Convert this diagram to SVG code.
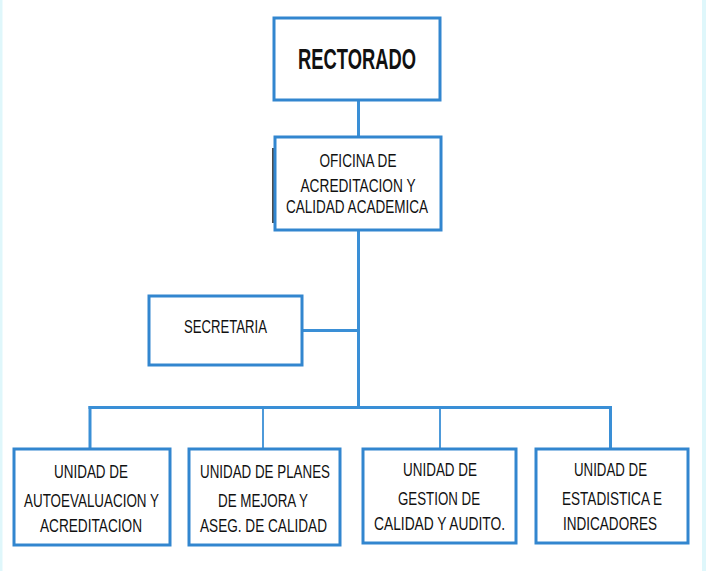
<svg xmlns="http://www.w3.org/2000/svg" width="706" height="571" viewBox="0 0 706 571">
<style>
.box{fill:#ffffff;stroke:#3286cf;stroke-width:3}
.ln{fill:none;stroke:#3a8fd6;stroke-width:3}
.thin{fill:none;stroke:#3a8fd6;stroke-width:1.8}
text{font-family:"Liberation Sans",Arial,sans-serif;fill:#111111;text-anchor:middle}
.t{font-size:19px}
.big{font-size:29px;font-weight:bold}
</style>
<rect x="0" y="0" width="706" height="571" fill="#ffffff"/>
<rect x="0" y="0" width="2.5" height="571" fill="#dff7fb"/>
<rect x="702" y="0" width="4" height="571" fill="#dff7fb"/>
<g id="connectors">
<line class="ln" x1="358.5" y1="100" x2="358.5" y2="137"/>
<line class="ln" x1="358.5" y1="230" x2="358.5" y2="407.5"/>
<line class="ln" x1="302" y1="330.5" x2="358.5" y2="330.5"/>
<line class="ln" x1="88.5" y1="407.5" x2="612" y2="407.5"/>
<line class="ln" x1="90" y1="406" x2="90" y2="449"/>
<line class="thin" x1="263" y1="407.5" x2="263" y2="449"/>
<line class="thin" x1="440" y1="407.5" x2="440" y2="449"/>
<line class="ln" x1="610.5" y1="406" x2="610.5" y2="449"/>
</g>
<g id="rectorado">
<rect class="box" x="274" y="18" width="166" height="82"/>
<text class="big" x="357" y="69" textLength="118" lengthAdjust="spacingAndGlyphs">RECTORADO</text>
</g>
<g id="oficina">
<line x1="273" y1="148" x2="273" y2="223" stroke="#111" stroke-width="1.5"/>
<rect class="box" x="275" y="137" width="166" height="93"/>
<text class="t" x="358" y="167" textLength="77" lengthAdjust="spacingAndGlyphs">OFICINA DE</text>
<text class="t" x="358" y="192" textLength="115" lengthAdjust="spacingAndGlyphs">ACREDITACION Y</text>
<text class="t" x="357" y="213" textLength="142" lengthAdjust="spacingAndGlyphs">CALIDAD ACADEMICA</text>
</g>
<g id="secretaria">
<rect class="box" x="149" y="296" width="153" height="69"/>
<text class="t" x="225.5" y="333" textLength="83" lengthAdjust="spacingAndGlyphs">SECRETARIA</text>
</g>
<g id="unidad1">
<rect class="box" x="14" y="449" width="156" height="96"/>
<text class="t" x="91" y="478" textLength="74" lengthAdjust="spacingAndGlyphs">UNIDAD DE</text>
<text class="t" x="91.5" y="507" textLength="135" lengthAdjust="spacingAndGlyphs">AUTOEVALUACION Y</text>
<text class="t" x="91" y="532" textLength="102" lengthAdjust="spacingAndGlyphs">ACREDITACION</text>
</g>
<g id="unidad2">
<rect class="box" x="189" y="449" width="151" height="96"/>
<text class="t" x="265" y="478" textLength="130" lengthAdjust="spacingAndGlyphs">UNIDAD DE PLANES</text>
<text class="t" x="263" y="507" textLength="90" lengthAdjust="spacingAndGlyphs">DE MEJORA Y</text>
<text class="t" x="263.5" y="532" textLength="127" lengthAdjust="spacingAndGlyphs">ASEG. DE CALIDAD</text>
</g>
<g id="unidad3">
<rect class="box" x="363" y="449" width="153" height="94"/>
<text class="t" x="440" y="476" textLength="74" lengthAdjust="spacingAndGlyphs">UNIDAD DE</text>
<text class="t" x="439" y="505" textLength="82" lengthAdjust="spacingAndGlyphs">GESTION DE</text>
<text class="t" x="439.5" y="530" textLength="131" lengthAdjust="spacingAndGlyphs">CALIDAD Y AUDITO.</text>
</g>
<g id="unidad4">
<rect class="box" x="536" y="449" width="152" height="94"/>
<text class="t" x="610.5" y="476" textLength="73" lengthAdjust="spacingAndGlyphs">UNIDAD DE</text>
<text class="t" x="612" y="505" textLength="100" lengthAdjust="spacingAndGlyphs">ESTADISTICA E</text>
<text class="t" x="610" y="530" textLength="94" lengthAdjust="spacingAndGlyphs">INDICADORES</text>
</g>
</svg>
